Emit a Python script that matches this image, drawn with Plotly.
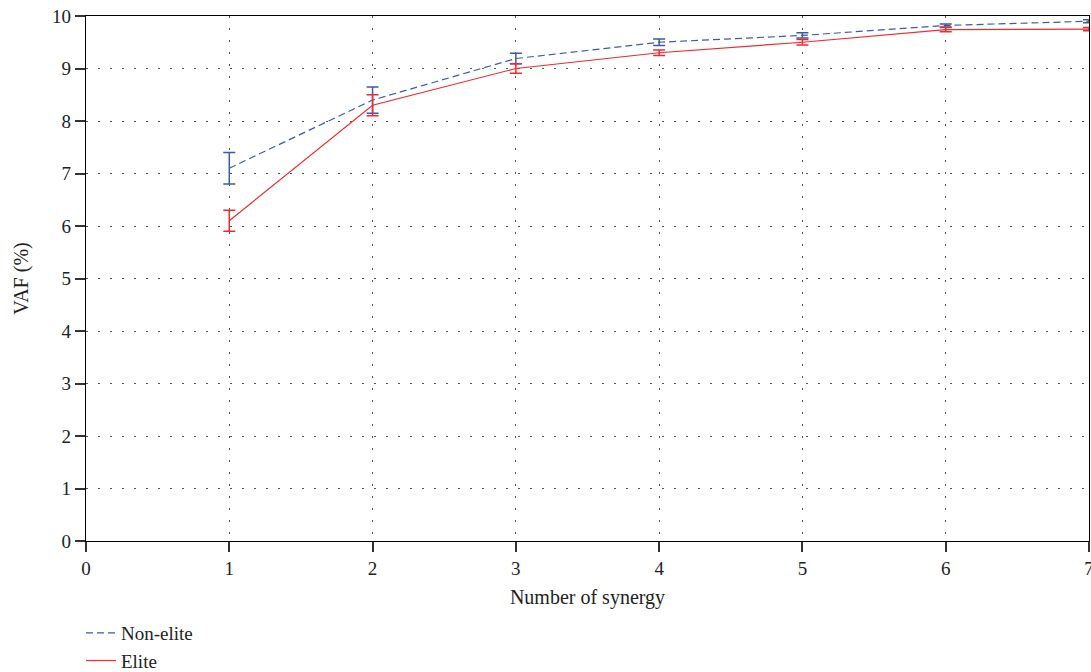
import plotly.graph_objects as go

synergy = [1, 2, 3, 4, 5, 6, 7]
non_elite = [7.1, 8.4, 9.19, 9.5, 9.63, 9.82, 9.9]
non_elite_err = [0.3, 0.25, 0.1, 0.06, 0.05, 0.03, 0.03]
elite = [6.1, 8.3, 9.0, 9.3, 9.5, 9.74, 9.75]
elite_err = [0.2, 0.2, 0.09, 0.05, 0.05, 0.04, 0.03]

BLUE = "#3b5ba5"
RED = "#ee2a2e"
FONT = "Liberation Serif"
TXT = "#222"

fig = go.Figure()
fig.add_trace(go.Scatter(
    x=synergy, y=non_elite, name="Non-elite", mode="lines",
    line=dict(color=BLUE, width=1.2, dash="7px,4px"),
    error_y=dict(type="data", array=non_elite_err, color=BLUE, thickness=1.5, width=6),
))
fig.add_trace(go.Scatter(
    x=synergy, y=elite, name="Elite", mode="lines",
    line=dict(color=RED, width=1.2),
    error_y=dict(type="data", array=elite_err, color=RED, thickness=1.5, width=6),
))

axis_common = dict(
    showline=True, linecolor="black", linewidth=1.3, mirror=True,
    ticks="outside", ticklen=10, tickcolor="#333", tickwidth=1.5,
    showgrid=True, gridcolor="#555", gridwidth=1, griddash="2px,10px",
    zeroline=False, ticklabeloverflow="allow",
    tickfont=dict(family=FONT, size=19, color=TXT),
)

fig.update_xaxes(range=[0, 7], tickvals=list(range(8)),
                 title=dict(text="Number of synergy", font=dict(family=FONT, size=20, color=TXT), standoff=12),
                 **axis_common)
fig.update_yaxes(range=[0, 10], tickvals=list(range(11)),
                 title=dict(text="VAF (%)", font=dict(family=FONT, size=20, color=TXT), standoff=18),
                 **axis_common)

fig.update_layout(
    width=1091, height=672, autosize=False,
    margin=dict(l=86, r=2, t=16, b=131, autoexpand=False),
    plot_bgcolor="white", paper_bgcolor="white",
    font=dict(family=FONT, size=19, color=TXT),
    showlegend=True,
    legend=dict(x=-0.005, y=-0.139, xanchor="left", yanchor="top",
                font=dict(family=FONT, size=19, color=TXT),
                tracegroupgap=0, itemwidth=30, bgcolor="rgba(0,0,0,0)"),
)

post = (
    "document.body.style.margin='0';"
    "var gd=document.getElementById('{plot_id}');"
    "Plotly.relayout(gd,{width:1091,height:672});"
)
fig.write_html("out.html", post_script=post, config={"displayModeBar": False})
